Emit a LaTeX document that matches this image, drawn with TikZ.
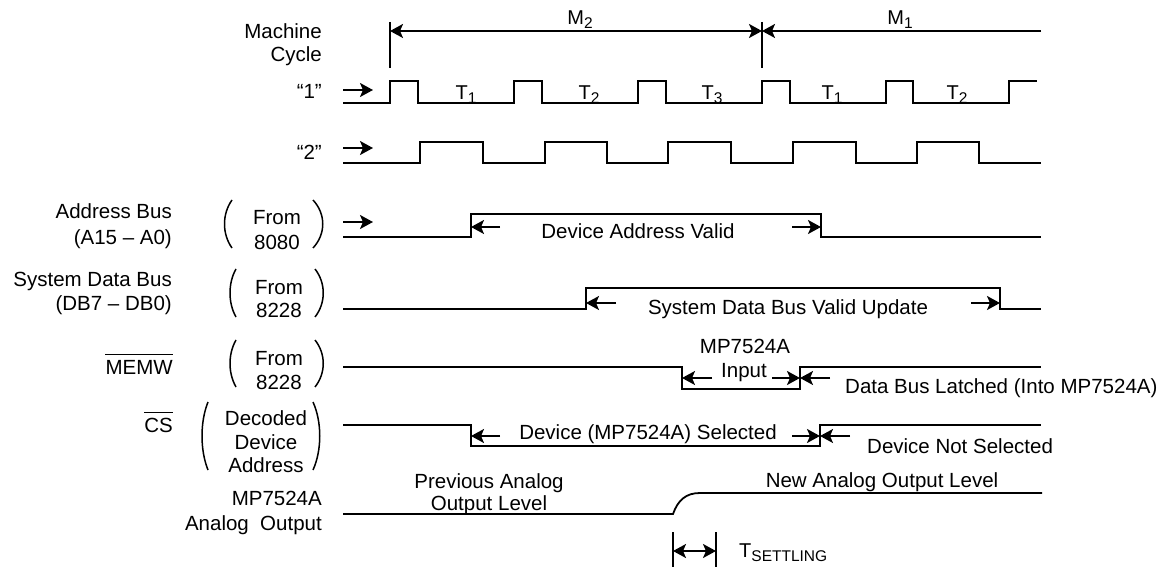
\documentclass[tikz,border=0pt]{standalone}
\usepackage{fontspec}
\setmainfont{Liberation Sans}
\usetikzlibrary{arrows.meta}
\newcommand\txtfs{\fontsize{20.5}{24}\selectfont}
\newcommand\tfs{\fontsize{20}{22}\selectfont}
\newcommand\subl[1]{\raisebox{-4pt}{\fontsize{15.5}{16}\selectfont #1}}
\begin{document}
\begin{tikzpicture}[x=1pt,y=-1pt,
  every node/.style={inner sep=0pt},
  wave/.style={line width=1.8pt, line join=miter},
  tip/.tip={Stealth[length=13pt,width=14pt,inset=3pt]},
  arr/.style={line width=1.8pt,-tip},
  darr/.style={line width=1.8pt,tip-tip},
  lbl/.style={font=\txtfs},
  tlbl/.style={font=\tfs, anchor=base},
  paren/.style={line width=1.5pt}]
\useasboundingbox (0,0) rectangle (1166,569);

% ---------- left labels ----------
\node[lbl,anchor=base east] (mc1) at (322,39) {Machine};
\node[lbl,anchor=base east] (mc2) at (322,62) {Cycle};
\node[lbl,anchor=base east] (q1) at (322,99) {“1”};
\node[lbl,anchor=base east] (q2) at (322,160) {“2”};
\node[lbl,anchor=base east] (ab1) at (172,219) {Address Bus};
\node[lbl,anchor=base east] (ab2) at (172,244) {(A15 – A0)};
\node[lbl,anchor=base] (abf1) at (277,225) {From};
\node[lbl,anchor=base] (abf2) at (277,249) {8080};
\node[lbl,anchor=base east] (sd1) at (172,286) {System Data Bus};
\node[lbl,anchor=base east] (sd2) at (172,310) {(DB7 – DB0)};
\node[lbl,anchor=base] (sdf1) at (279,294) {From};
\node[lbl,anchor=base] (sdf2) at (279,317) {8228};
\node[lbl,anchor=base east] (memw) at (173,374) {MEMW};
\draw[line width=1.3pt] ([yshift=5pt]memw.north west) -- ([yshift=5pt]memw.north east);
\node[lbl,anchor=base] (mwf1) at (279,365) {From};
\node[lbl,anchor=base] (mwf2) at (279,389) {8228};
\node[lbl,anchor=base east] (cs) at (173,432) {CS};
\draw[line width=1.3pt] ([yshift=5pt]cs.north west) -- ([yshift=5pt]cs.north east);
\node[lbl,anchor=base] (csd1) at (266,425) {Decoded};
\node[lbl,anchor=base] (csd2) at (266,449) {Device};
\node[lbl,anchor=base] (csd3) at (266,472) {Address};
\node[lbl,anchor=base east] (ao1) at (322,505) {MP7524A};
\node[lbl,anchor=base east] (ao2) at (322,530) {Analog~ Output};

% ---------- parentheses ----------
\draw[paren] (232,200) .. controls (222,214) and (222,234) .. (232,248);
\draw[paren] (313,200) .. controls (326,214) and (326,234) .. (313,248);
\draw[paren] (236,269) .. controls (228,283) and (228,303) .. (236,317);
\draw[paren] (315,269) .. controls (326,283) and (326,303) .. (315,317);
\draw[paren] (236,340) .. controls (228,354) and (228,373) .. (236,387);
\draw[paren] (315,340) .. controls (326,354) and (326,373) .. (315,387);
\draw[paren] (208,402) .. controls (200,422) and (200,450) .. (208,470);
\draw[paren] (313,402) .. controls (322,422) and (322,450) .. (313,470);

% ---------- machine cycle ----------
\coordinate (m2a) at (390,31);
\coordinate (m2b) at (762,31);
\coordinate (m1e) at (1041,31);
\draw[line width=1.8pt] (390,22) -- (390,68);
\draw[line width=1.8pt] (762,22) -- (762,68);
\draw[darr] (m2a) -- (m2b);
\draw[arr] (m1e) -- (m2b);
\node[tlbl] (m2) at (580,25) {M\subl{2}};
\node[tlbl] (m1) at (900,25) {M\subl{1}};

% ---------- clock 1 ----------
\draw[arr] (343,90) -- (373,90);
\draw[wave] (343,103) -- (390,103) -- (390,81) -- (418,81) -- (418,103)
  -- (514,103) -- (514,81) -- (542,81) -- (542,103)
  -- (638,103) -- (638,81) -- (666,81) -- (666,103)
  -- (762,103) -- (762,81) -- (790,81) -- (790,103)
  -- (886,103) -- (886,81) -- (913,81) -- (913,103)
  -- (1009,103) -- (1009,81) -- (1037,81);
\node[tlbl] (t1a) at (466,100) {T\subl{1}};
\node[tlbl] (t2a) at (589,100) {T\subl{2}};
\node[tlbl] (t3a) at (712,100) {T\subl{3}};
\node[tlbl] (t1b) at (832,100) {T\subl{1}};
\node[tlbl] (t2b) at (957,100) {T\subl{2}};

% ---------- clock 2 ----------
\draw[arr] (343,148) -- (373,148);
\draw[wave] (343,163) -- (420,163) -- (420,142) -- (483,142) -- (483,163)
  -- (545,163) -- (545,142) -- (607,142) -- (607,163)
  -- (668,163) -- (668,142) -- (731,142) -- (731,163)
  -- (793,163) -- (793,142) -- (856,142) -- (856,163)
  -- (917,163) -- (917,142) -- (979,142) -- (979,163) -- (1041,163);

% ---------- address bus ----------
\draw[arr] (343,222) -- (373,222);
\draw[wave] (343,237) -- (471,237) -- (471,214) -- (821,214) -- (821,237) -- (1041,237);
\draw[arr] (500,227) -- (471,227);
\draw[arr] (792,227) -- (821,227);
\node[lbl,anchor=base] (adv) at (638,239) {Device Address Valid};

% ---------- system data bus ----------
\draw[wave] (343,309) -- (586,309) -- (586,288) -- (1000,288) -- (1000,309) -- (1041,309);
\draw[arr] (616,303) -- (586,303);
\draw[arr] (971,303) -- (1000,303);
\node[lbl,anchor=base] (sdv) at (788,314) {System Data Bus Valid Update};

% ---------- MEMW ----------
\draw[wave] (343,367) -- (682,367) -- (682,389) -- (800,389) -- (800,367) -- (1041,367);
\draw[arr] (712,378) -- (682,378);
\draw[arr] (772,378) -- (800,378);
\draw[arr] (830,378) -- (800,378);
\node[lbl,anchor=base] (mpi1) at (745,353) {MP7524A};
\node[lbl,anchor=base] (mpi2) at (744,377) {Input};
\node[lbl,anchor=base west] (dbl) at (845,393) {Data Bus Latched (Into MP7524A)};

% ---------- CS ----------
\draw[wave] (343,425) -- (471,425) -- (471,446) -- (820,446) -- (820,425) -- (1041,425);
\draw[arr] (500,436) -- (471,436);
\draw[arr] (792,436) -- (820,436);
\draw[arr] (850,436) -- (820,436);
\node[lbl,anchor=base] (dsel) at (648,439) {Device (MP7524A) Selected};
\node[lbl,anchor=base west] (dns) at (867,453) {Device Not Selected};

% ---------- analog output ----------
\draw[wave] (343,514) -- (673,514) .. controls (678,500) and (686,493) .. (700,493) -- (1042,493);
\node[lbl,anchor=base] (pal1) at (489,488) {Previous Analog};
\node[lbl,anchor=base] (pal2) at (489,510) {Output Level};
\node[lbl,anchor=base] (nal) at (882,487) {New Analog Output Level};

% ---------- settling ----------
\draw[line width=1.8pt] (673,532) -- (673,567);
\draw[line width=1.8pt] (716,532) -- (716,567);
\coordinate (tsa) at (673,551);
\coordinate (tsb) at (716,551);
\draw[darr] (tsa) -- (tsb);
\node[anchor=base west,font=\tfs] (tset) at (739,557) {T\subl{SETTLING}};
\end{tikzpicture}
\end{document}
